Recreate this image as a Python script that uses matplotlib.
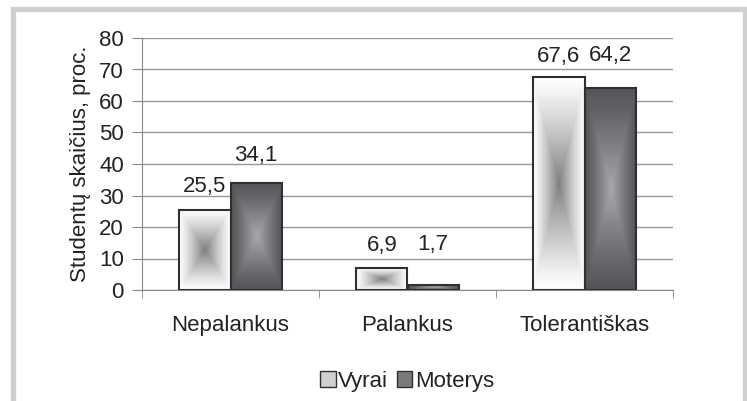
import numpy as np
import matplotlib.pyplot as plt
from matplotlib.patches import Rectangle, Patch

plt.rcParams['font.family'] = ['Liberation Sans', 'DejaVu Sans']

categories = ["Nepalankus", "Palankus", "Tolerantiškas"]
vyrai = [25.5, 6.9, 67.6]
moterys = [34.1, 1.7, 64.2]
labels_vyrai = ["25,5", "6,9", "67,6"]
labels_moterys = ["34,1", "1,7", "64,2"]
# label offsets above bar tops (points), as placed in the original
off_vyrai = [9, 9, 7.5]
off_moterys = [12, 21.5, 15.5]

txt = "#222222"
fs = 16
W, H = 747, 401
fig = plt.figure(figsize=(W / 100, H / 100), dpi=100)
ax = fig.add_axes([142 / W, 1 - 290 / H, (673 - 142) / W, (290 - 38) / H])

# grey frame around the chart
fig.patches.append(Rectangle((12.5 / W, -0.05), (744.5 - 12.5) / W, 1.05 - 8.5 / H,
                             transform=fig.transFigure, fill=False,
                             edgecolor="#d0d0d0", linewidth=3.8, zorder=0))


def gradient(center, edge, n=120):
    u = np.linspace(-1, 1, n)
    uu, vv = np.meshgrid(u, u)
    t = np.maximum(np.abs(uu), np.abs(vv))
    c = np.array(center)[None, None, :]
    e = np.array(edge)[None, None, :]
    return e + (c - e) * (1 - t[..., None]) ** 1.2


grad_v = gradient((0.50, 0.50, 0.51), (1.0, 1.0, 1.0))
grad_m = gradient((0.66, 0.66, 0.68), (0.33, 0.33, 0.35))

w = 0.29
x = np.arange(len(categories))
for i in range(len(categories)):
    for val, lab, off, g, x0 in [(vyrai[i], labels_vyrai[i], off_vyrai[i], grad_v, x[i] - w),
                                 (moterys[i], labels_moterys[i], off_moterys[i], grad_m, x[i])]:
        ax.imshow(g, extent=[x0, x0 + w, 0, val], aspect='auto', zorder=2,
                  interpolation='bilinear')
        ax.add_patch(Rectangle((x0, 0), w, val, fill=False, edgecolor="#303030",
                               linewidth=1.5, zorder=3))
        ax.annotate(lab, (x0 + w / 2, val), xytext=(0, off), textcoords='offset points',
                    ha='center', va='bottom', fontsize=fs, color=txt)

ax.set_xlim(-0.5, len(categories) - 0.5)
ax.set_ylim(0, 80)
ax.set_yticks(np.arange(0, 81, 10))
ax.set_xticks(x)
ax.set_xticklabels(categories)
ax.set_xticks(np.arange(-0.5, len(categories), 1), minor=True)
ax.tick_params(axis='x', which='major', length=0, pad=18, labelsize=fs, labelcolor=txt)
ax.tick_params(axis='x', which='minor', length=6, color="#888888")
ax.tick_params(axis='y', length=7, pad=6, labelsize=fs, labelcolor=txt, color="#888888")
ax.grid(axis='y', color="#999999", linewidth=1)
ax.set_axisbelow(True)
for s in ['top', 'right']:
    ax.spines[s].set_visible(False)
for s in ['left', 'bottom']:
    ax.spines[s].set_color("#888888")
ax.set_ylabel("Studentų skaičius, proc.", fontsize=fs, color=txt, labelpad=6)

handles = [Patch(facecolor="#d0d0d0", edgecolor="#303030", label="Vyrai"),
           Patch(facecolor="#7a7a7a", edgecolor="#303030", label="Moterys")]
fig.legend(handles=handles, loc='center', bbox_to_anchor=(407 / W, 1 - 381 / H), ncol=2,
           frameon=False, fontsize=fs, handlelength=0.7, handleheight=0.7,
           handletextpad=0.1, columnspacing=0.4, labelcolor=txt)

fig.savefig("out.png", dpi=100)
